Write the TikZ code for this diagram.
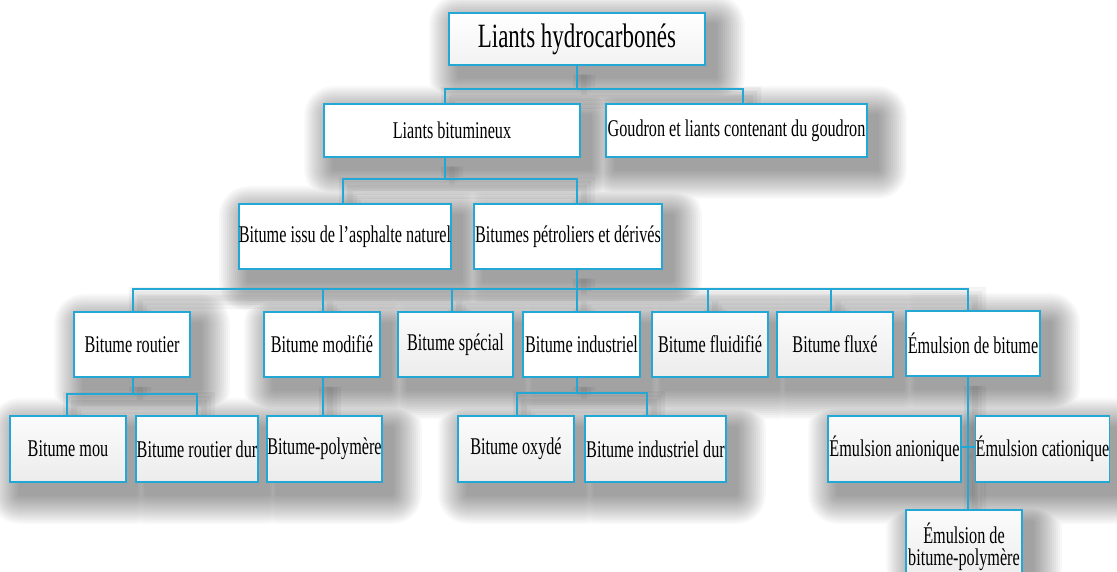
\documentclass[tikz,border=0pt]{standalone}
\usepackage{fontspec}
\setmainfont{Liberation Serif}[FakeStretch=0.675]
\pgfdeclarelayer{back}
\pgfdeclarelayer{bg}
\pgfsetlayers{back,bg,main}
\definecolor{edgeblue}{RGB}{35,168,214}
\newcommand\allconns{%
\draw[conn] (top.south -| j1) -- (j1);
\draw[conn] (lb.north -| j1l) |- (j1r) -- (goud.north -| j1r);
\draw[conn] (lb.south -| j2) -- (j2);
\draw[conn] (issu.north -| j2l) |- (j2r) -- (petro.north -| j2r);
\draw[conn] (petro.south -| j3) -- (indus.north -| j3);
\draw[conn] (routier.north -| j3a) |- (j3g) -- (emul.north -| j3g);
\foreach \n/\j in {modif/j3b, special/j3c, fluid/j3e, fluxe/j3f} {\draw[conn] (\j) -- (\n.north -| \j);}
\draw[conn] (routier.south -| j4) -- (j4);
\draw[conn] (mou.north -| j4l) |- (j4r) -- (rdur.north -| j4r);
\draw[conn] (modif.south -| j3b) -- (poly.north -| j3b);
\draw[conn] (indus.south -| j5) -- (j5);
\draw[conn] (oxyde.north -| j5l) |- (j5r) -- (idur.north -| j5r);
\draw[conn] (emul.south -| j3g) -- (epoly.north -| j3g);
\draw[conn] (anio.east |- j6) -- (catio.west |- j6);
}
\begin{document}
\begin{tikzpicture}[x=1pt,y=-1pt,
  box/.style={draw=edgeblue, line width=1.5pt, inner sep=0pt, align=center,
    font=\fontsize{24}{22}\selectfont},
  wbox/.style={box, fill=white},
  gbox/.style={box, top color=gray!3, bottom color=gray!15},
  conn/.style={draw=edgeblue, line width=1.3pt},
  shadowlayer/.style={fill=black, opacity=0.026, nonzero rule}]
\useasboundingbox (0,0) rectangle (1117,572);
\begin{pgfonlayer}{back}
\fill[white] (0,0) rectangle (1117,572);
\end{pgfonlayer}

% level 1 and 2
\node[box, top color=white, bottom color=gray!10, minimum width=256pt, minimum height=52pt,
  font=\fontsize{34}{34}\selectfont] (top) at (577,39) {Liants hydrocarbonés};
\node[wbox, minimum width=256pt, minimum height=53pt] (lb) at (452,130.5) {Liants bitumineux};
\node[wbox, minimum width=261pt, minimum height=53pt] (goud) at (736.5,130.5) {Goudron et liants contenant du goudron};
% level 3
\node[wbox, minimum width=212pt, minimum height=65pt] (issu) at (345,236.5) {Bitume issu de l'asphalte naturel};
\node[wbox, minimum width=188pt, minimum height=65pt] (petro) at (568,236.5) {Bitumes pétroliers et dérivés};
% level 4
\node[wbox, minimum width=116pt, minimum height=65pt] (routier) at (132,344.5) {Bitume routier};
\node[wbox, minimum width=116pt, minimum height=65pt] (modif) at (322,344.5) {Bitume modifié};
\node[gbox, minimum width=115pt, minimum height=65pt] (special) at (455.5,344.5) {Bitume spécial};
\node[wbox, minimum width=117pt, minimum height=65pt] (indus) at (581.5,344.5) {Bitume industriel};
\node[gbox, minimum width=116pt, minimum height=65pt] (fluid) at (710,344.5) {Bitume fluidifié};
\node[gbox, minimum width=116pt, minimum height=65pt] (fluxe) at (835,344.5) {Bitume fluxé};
\node[wbox, minimum width=134pt, minimum height=65pt] (emul) at (973,343.5) {Émulsion de bitume};
% level 5
\node[gbox, minimum width=116pt, minimum height=66pt] (mou) at (68,449) {Bitume mou};
\node[gbox, minimum width=122pt, minimum height=66pt] (rdur) at (197,449) {Bitume routier dur};
\node[gbox, minimum width=115pt, minimum height=66pt] (poly) at (324.5,449) {Bitume-polymère};
\node[gbox, minimum width=116pt, minimum height=66pt] (oxyde) at (516,449) {Bitume oxydé};
\node[gbox, minimum width=141pt, minimum height=66pt] (idur) at (655.5,449) {Bitume industriel dur};
\node[gbox, minimum width=133pt, minimum height=66pt] (anio) at (894.5,449) {Émulsion anionique};
\node[gbox, minimum width=133pt, minimum height=66pt] (catio) at (1042.5,449) {Émulsion cationique};
\node[gbox, minimum width=116pt, minimum height=74pt] (epoly) at (964,547) {Émulsion de\\bitume-polymère};

% junction points
\coordinate (j1) at (577,89); \coordinate (j1l) at (445,89); \coordinate (j1r) at (743,89);
\coordinate (j2) at (445,179); \coordinate (j2l) at (343,179); \coordinate (j2r) at (577,179);
\coordinate (j3) at (577,289); \coordinate (j3a) at (133,289); \coordinate (j3b) at (323,289);
\coordinate (j3c) at (452,289); \coordinate (j3e) at (708,289); \coordinate (j3f) at (831,289);
\coordinate (j3g) at (968,289);
\coordinate (j4) at (133,394); \coordinate (j4l) at (67,394); \coordinate (j4r) at (197,394);
\coordinate (j5) at (577,393); \coordinate (j5l) at (517,393); \coordinate (j5r) at (647,393);
\coordinate (j6) at (968,447);

% soft drop shadows (one merged path per blur step)
\begin{pgfonlayer}{bg}
\foreach \r in {1,3,...,29}{
  \fill[shadowlayer, rounded corners=\r pt]
    \foreach \n in {top,lb,goud,issu,petro,routier,modif,special,indus,fluid,fluxe,emul,
                    mou,rdur,poly,oxyde,idur,anio,catio,epoly}{
      ([shift={({10-\r},{12-\r})}]\n.north west) rectangle ([shift={({10+\r},{12+\r})}]\n.south east)
    };
}
\begin{scope}[transform canvas={shift={(7pt,-9pt)}}]
\foreach \w in {6,14,22}{
  \begin{scope}[transparency group, opacity=0.045,
    conn/.style={draw=black, line width=\w pt}]
  \allconns
  \end{scope}
}
\end{scope}
\end{pgfonlayer}
\allconns
\end{tikzpicture}
\end{document}
